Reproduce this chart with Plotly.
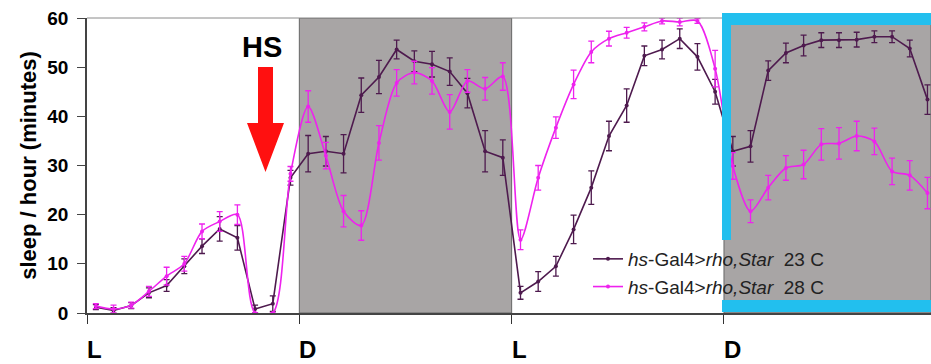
import plotly.graph_objects as go

# ---- data (hourly bins, hour index + 0.5) ----
hours = [h + 0.5 for h in range(48)]

sleep_23C = [1.2, 0.5, 1.5, 4.1, 5.6, 9.5, 13.6, 17.1, 15.3, 0.8, 1.9, 27.5,
             32.4, 32.9, 32.4, 44.3, 48.0, 53.6, 51.2, 50.6, 49.1, 44.7, 32.9, 31.6,
             4.1, 6.4, 9.5, 17.0, 25.5, 36.0, 42.2, 52.3, 53.6, 55.8, 52.1, 45.0,
             32.9, 33.9, 49.3, 52.9, 54.4, 55.5, 55.5, 55.6, 56.2, 56.2, 53.8, 43.4]
err_23C = [0.5, 0.6, 0.6, 1.0, 1.2, 1.5, 1.5, 2.5, 2.5, 0.8, 1.6, 1.5,
           3.7, 3.0, 3.9, 3.5, 3.4, 1.9, 2.1, 2.6, 2.8, 3.0, 4.2, 3.6,
           1.3, 2.0, 2.0, 2.9, 3.4, 3.0, 3.4, 2.0, 1.9, 2.0, 2.7, 2.5,
           3.0, 3.2, 2.0, 2.0, 2.1, 1.5, 1.5, 1.5, 1.2, 1.2, 1.7, 3.0]

sleep_28C = [1.4, 0.8, 1.6, 4.4, 7.5, 10.0, 16.6, 18.6, 20.0, 0.0, 0.0, 28.3,
             42.0, 32.0, 20.7, 17.8, 34.6, 46.8, 48.9, 47.2, 40.9, 47.2, 45.6, 48.1,
             14.9, 27.5, 37.7, 46.5, 53.1, 55.8, 57.0, 58.2, 59.4, 59.2, 59.4, 49.7,
             29.9, 20.7, 25.5, 29.5, 30.2, 34.3, 34.5, 36.0, 34.9, 28.8, 28.0, 24.4]
err_28C = [0.5, 0.8, 0.6, 1.0, 1.8, 1.5, 1.5, 2.0, 2.0, 0.0, 0.0, 1.5,
           3.2, 2.7, 3.2, 3.0, 3.5, 2.7, 2.3, 2.7, 3.5, 2.3, 2.3, 2.8,
           2.0, 2.5, 2.2, 2.9, 2.2, 1.5, 1.1, 0.8, 0.6, 0.8, 0.5, 3.7,
           2.7, 2.3, 2.5, 2.5, 2.9, 3.2, 3.2, 3.0, 2.7, 2.7, 3.0, 3.2]

phase_starts = [0, 12, 24, 36]
phase_labels = ["L", "D", "L", "D"]
dark_phases = [(12, 24), (36, 48)]
y_ticks = [0, 10, 20, 30, 40, 50, 60]
series_names = ["<i>hs</i>-Gal4&gt;<i>rho,Star</i>&nbsp; 23 C",
                "<i>hs</i>-Gal4&gt;<i>rho,Star</i>&nbsp; 28 C"]

# ---- layout geometry ----
W, H = 931, 364
ML, MR, MT, MB = 87, 0, 18, 51
PW, PH = W - ML - MR, H - MT - MB
X_END = 47.7
FONT = "Liberation Sans, Arial, sans-serif"
DARK = "#4e1a4e"
MAG = "#ee22ee"
GRAY = "#a8a5a5"
BLUE = "#22bfee"


def px(xpix):
    return (xpix - ML) / PW


def py(ypix):
    return (MT + PH - ypix) / PH


fig = go.Figure()

fig.add_trace(go.Scatter(
    x=hours, y=sleep_23C, name=series_names[0], mode="lines+markers",
    line=dict(color=DARK, width=1.6), marker=dict(color=DARK, size=4),
    error_y=dict(type="data", array=err_23C, visible=True, color=DARK,
                 thickness=1.3, width=3),
))
fig.add_trace(go.Scatter(
    x=hours, y=sleep_28C, name=series_names[1], mode="lines+markers",
    line=dict(color=MAG, width=1.6, shape="spline", smoothing=0.8),
    marker=dict(color=MAG, size=4),
    error_y=dict(type="data", array=err_28C, visible=True, color=MAG,
                 thickness=1.3, width=3),
))

shapes = []
for a, b in dark_phases:
    shapes.append(dict(type="rect", xref="x", yref="y", x0=a, x1=min(b, X_END),
                       y0=0, y1=60, fillcolor=GRAY, line=dict(color="#666666", width=1),
                       layer="below"))
# top border of plot area
shapes.append(dict(type="line", xref="paper", yref="paper", x0=0, x1=1, y0=1, y1=1,
                   line=dict(color="#8a8a8a", width=1)))
# blue frame around last dark phase
for (x0, x1, y0, y1) in [(722, 931, 13, 25), (722, 731, 13, 240), (722, 931, 300, 312)]:
    shapes.append(dict(type="rect", xref="paper", yref="paper",
                       x0=px(x0), x1=px(x1), y0=py(y1), y1=py(y0),
                       fillcolor=BLUE, line=dict(width=0), layer="above"))
# red heat-shock arrow
pts = [(258, 67), (273, 67), (273, 123), (284, 123), (265.5, 172), (247, 123), (258, 123)]
path = "M " + " L ".join(f"{px(a):.5f},{py(b):.5f}" for a, b in pts) + " Z"
shapes.append(dict(type="path", xref="paper", yref="paper", path=path,
                   fillcolor="#ff1010", line=dict(width=0)))

annotations = [dict(text="<b>HS</b>", xref="paper", yref="paper", x=px(262), y=py(47),
                    showarrow=False, font=dict(family=FONT, size=29, color="black"),
                    xanchor="center", yanchor="middle")]
for xs, lab in zip(phase_starts, phase_labels):
    annotations.append(dict(text=f"<b>{lab}</b>", xref="x", yref="paper", x=xs, y=py(349),
                            showarrow=False, xanchor="left", yanchor="middle", xshift=-2,
                            font=dict(family=FONT, size=24, color="black")))

fig.update_layout(
    width=W, height=H, margin=dict(l=ML, r=MR, t=MT, b=MB),
    paper_bgcolor="white", plot_bgcolor="white",
    font=dict(family=FONT, color="black"),
    shapes=shapes, annotations=annotations,
    showlegend=True,
    legend=dict(x=px(588), y=py(240), xanchor="left", yanchor="top",
                bgcolor="rgba(0,0,0,0)", borderwidth=0,
                font=dict(family=FONT, size=19, color="#222222"),
                tracegroupgap=0, itemwidth=30),
    xaxis=dict(range=[0, X_END], tickvals=phase_starts + [48], showticklabels=False,
               ticks="outside", ticklen=9, tickcolor="#333333", showgrid=False,
               zeroline=False, showline=True, linecolor="#444444", linewidth=1.5),
    yaxis=dict(range=[0, 60], tickvals=y_ticks, ticks="outside", ticklen=8,
               tickcolor="#444444", showgrid=False, zeroline=False, showline=True,
               linecolor="#444444", linewidth=1.5, ticklabelstandoff=5,
               tickfont=dict(family=FONT, size=19, color="black", weight="bold"),
               title=dict(text="<b>sleep / hour (minutes)</b>", standoff=5,
                          font=dict(family=FONT, size=22, color="black"))),
)

fig.write_html("out.html")
